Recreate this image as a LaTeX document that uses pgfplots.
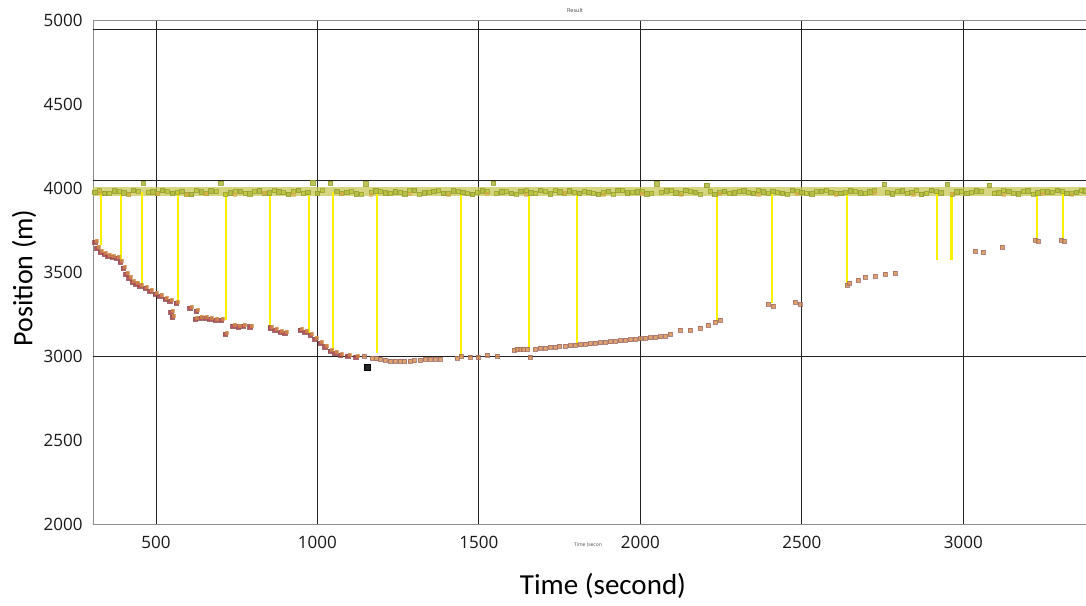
\documentclass[border=0pt]{standalone}
\usepackage{pgfplots}
\usepackage{pgfplotstable}
\pgfplotsset{compat=1.18}
\usepackage{fontspec}
\setmainfont{Open Sans}
\newfontfamily\labelfont{Carlito}
\definecolor{band}{RGB}{176,186,58}
\definecolor{bandline}{RGB}{200,200,85}
\definecolor{bandor}{RGB}{215,170,70}
\definecolor{yel}{RGB}{250,240,0}
\definecolor{traj}{RGB}{214,140,70}
\definecolor{trajdark}{RGB}{120,45,40}
\definecolor{trajred}{RGB}{170,55,70}
\definecolor{gridc}{RGB}{35,35,35}
\definecolor{axc}{RGB}{140,140,140}

\pgfplotstableread{
x y
310 3975
340 3968
370 3983
400 3972
430 3988
460 4030
490 3979
520 3986
550 3970
580 3981
610 3962
640 3977
670 3984
700 4028
730 3973
760 3980
790 3966
820 3985
850 3971
880 3978
910 3964
940 3987
970 3974
985 4032
1000 3969
1040 4030
1060 3982
1090 3976
1120 3967
1150 4025
1180 3984
1210 3972
1240 3979
1270 3965
1300 3986
1330 3971
1360 3980
1390 3968
1420 3983
1450 3974
1480 3962
1510 3985
1545 4030
1570 3977
1600 3969
1630 3982
1660 3973
1690 3987
1720 3966
1750 3978
1780 3984
1810 3970
1840 3976
1870 3963
1900 3981
1930 3988
1960 3972
1990 3979
2020 3967
2050 4026
2080 3983
2110 3971
2140 3986
2170 3975
2205 4015
2230 3964
2260 3980
2290 3973
2320 3985
2350 3968
2380 3977
2410 3982
2440 3970
2470 3987
2500 3974
2530 3965
2560 3981
2590 3976
2620 3969
2650 3984
2680 3972
2710 3979
2755 4022
2780 3967
2810 3983
2840 3975
2870 3962
2900 3986
2930 3971
2950 4024
2980 3978
3010 3969
3040 3985
3080 4018
3110 3973
3140 3980
3170 3966
3200 3984
3230 3972
3260 3979
3290 3987
3320 3970
3350 3976
3375 3983
}\bandtable

\pgfplotstableread{
x y
325 3984
355 3971
385 3978
415 3966
445 3981
475 3973
505 3969
535 3982
565 3975
595 3965
625 3986
655 3970
685 3978
715 3964
745 3983
775 3972
805 3979
835 3967
865 3984
895 3973
925 3980
955 3968
1015 3985
1075 3971
1105 3979
1135 3966
1165 3974
1195 3983
1225 3969
1255 3977
1285 3985
1315 3966
1345 3975
1375 3984
1405 3971
1435 3979
1465 3967
1495 3976
1525 3983
1555 3970
1585 3979
1615 3966
1645 3985
1675 3972
1705 3978
1735 3984
1765 3969
1795 3975
1825 3982
1855 3971
1885 3977
1915 3966
1945 3984
1975 3973
2005 3980
2035 3968
2065 3977
2095 3985
2125 3970
2155 3979
2185 3966
2215 3983
2245 3974
2275 3968
2305 3980
2335 3975
2365 3985
2395 3970
2425 3976
2455 3966
2485 3983
2515 3972
2545 3978
2575 3986
2605 3969
2635 3975
2665 3981
2695 3967
2725 3984
2765 3974
2795 3979
2825 3968
2855 3985
2885 3972
2915 3978
2965 3966
2995 3983
3025 3974
3055 3980
3095 3969
3125 3984
3155 3972
3185 3978
3215 3965
3245 3983
3275 3974
3305 3980
3335 3967
3365 3985
}\bandtabletwo

\pgfplotstableread{
x y
311 3678
317 3643
327 3619
339 3607
351 3595
364 3589
379 3583
389 3559
398 3524
407 3488
416 3464
426 3440
438 3429
450 3417
466 3405
481 3387
497 3369
512 3357
528 3339
543 3327
562 3315
546 3262
550 3232
605 3286
624 3268
621 3220
636 3226
652 3226
667 3220
683 3214
701 3214
714 3131
738 3178
754 3173
769 3178
791 3173
853 3167
868 3155
884 3143
899 3137
946 3155
961 3143
977 3125
992 3101
1008 3077
1023 3054
1039 3030
1054 3018
1070 3006
1094 3000
1119 2994
}\trajA

\pgfplotstableread{
x y
1144 3000
1169 2988
1182 2985
1194 2982
1210 2975
1224 2970
1240 2972
1255 2970
1270 2968
1286 2970
1300 2973
1317 2976
1334 2980
1348 2982
1365 2984
1379 2982
1432 2988
1444 3000
1472 2994
1497 2994
1525 3006
1556 3000
1608 3036
1618 3040
1627 3042
1638 3040
1649 3042
1658 2994
1673 3042
1690 3046
1704 3048
1720 3051
1735 3054
1750 3057
1766 3060
1782 3062
1797 3065
1813 3068
1828 3071
1844 3074
1859 3077
1875 3080
1890 3083
1905 3086
1921 3089
1937 3092
1952 3095
1968 3098
1983 3101
1999 3104
2014 3107
2030 3110
2045 3113
2060 3116
2076 3119
2091 3131
2122 3155
2153 3155
2184 3167
2209 3184
2231 3202
2246 3214
2395 3309
2410 3297
2478 3321
2494 3309
2639 3423
2648 3434
2673 3452
2695 3470
2726 3476
2757 3488
2788 3494
3036 3625
3060 3619
3119 3649
3221 3690
3231 3684
3302 3690
3311 3684
}\trajB

\begin{document}
\begin{tikzpicture}
\useasboundingbox (-93pt,-81pt) rectangle (993pt,524pt);
\begin{axis}[
  at={(0pt,0pt)}, anchor=south west,
  scale only axis, width=993pt, height=504pt,
  xmin=305, xmax=3380, ymin=2000, ymax=5000,
  axis lines*=left,
  axis line style={draw=axc, line width=0.8pt},
  xtick={500,1000,...,3000}, ytick={2000,2500,...,5000},
  major tick length=0pt,
  xmajorgrids, grid style={gridc, line width=0.9pt},
  ticklabel style={font=\fontsize{17}{20}\selectfont, text=black!90},
  /pgf/number format/assume math mode=true,
  /pgf/number format/1000 sep={},
  xticklabel style={yshift=-9pt},
  yticklabel style={xshift=-7pt},
  unbounded coords=jump,
]
% extra horizontal lines
\addplot[gridc, line width=0.9pt] coordinates {(305,3000) (3380,3000)};
\addplot[gridc, line width=0.9pt] coordinates {(305,4042) (3380,4042)};
\addplot[gridc, line width=0.9pt] coordinates {(305,4946) (3380,4946)};
\addplot[axc, line width=0.8pt] coordinates {(305,5000) (3380,5000)};
% band
\addplot[bandline, line width=9pt, opacity=0.75] coordinates {(305,3977) (3380,3977)};
\addplot[only marks, mark=square*, mark size=2.2pt, mark options={fill=band, draw=band!85!black, opacity=0.85}] table {\bandtable};
\addplot[only marks, mark=square*, mark size=2pt, mark options={fill=band!85!yellow, draw=band!85!black, opacity=0.75}] table {\bandtabletwo};
\addplot[only marks, mark=square*, mark size=1.6pt, mark options={fill=bandor, draw=bandor, opacity=0.6}] coordinates {(325,3970) (415,3962) (505,3968) (595,3960) (655,3966) (745,3962) (835,3970) (925,3960) (1075,3966) (1165,3962) (1285,3968) (1405,3960) (1525,3966) (1645,3962) (1765,3970) (1885,3960) (2005,3966) (2125,3962) (2245,3968) (2365,3960) (2485,3966) (2605,3962) (2725,3970) (2845,3960) (2965,3966) (3125,3962) (3245,3968) (3335,3960)};
% yellow connecting lines
\addplot[yel, line width=2.4pt] coordinates {
(330,3975) (330,3662) (330,nan)
(392,3975) (392,3572) (392,nan)
(457,3975) (457,3423) (457,nan)
(568,3975) (568,3315) (568,nan)
(717,3975) (717,3213) (717,nan)
(853,3975) (853,3172) (853,nan)
(974,3975) (974,3136) (974,nan)
(1048,3975) (1048,3034) (1048,nan)
(1184,3975) (1184,3016) (1184,nan)
(1444,3975) (1444,2992) (1444,nan)
(1655,3975) (1655,3034) (1655,nan)
(1803,3975) (1803,3064) (1803,nan)
(2237,3975) (2237,3201) (2237,nan)
(2407,3975) (2407,3315) (2407,nan)
(2639,3975) (2639,3435) (2639,nan)
(2918,3975) (2918,3572) (2918,nan)
(2964,3975) (2964,3572) (2964,nan)
(3228,3975) (3228,3692) (3228,nan)
(3308,3975) (3308,3692)
};
% trajectory
\addplot[only marks, mark=square*, mark size=2.3pt, mark options={fill=trajred, draw=trajdark!80, line width=0.3pt, opacity=0.85}] table {\trajA};
\addplot[only marks, mark=square*, mark size=1.4pt, mark options={fill=traj, draw=traj, opacity=0.7}] table[x expr=\thisrow{x}+6, y expr=\thisrow{y}+8] {\trajA};
\addplot[only marks, mark=square*, mark size=2pt, mark options={fill=traj, draw=trajdark!70, line width=0.3pt, opacity=0.8}] table {\trajB};
\addplot[only marks, mark=square*, mark size=3pt, mark options={fill=black!85, draw=black}] coordinates {(1153,2935)};
\end{axis}
\node[font=\labelfont\fontsize{29}{34}\selectfont] at (510pt,-62pt) {Time (second)};
\node[font=\labelfont\fontsize{28}{33}\selectfont, rotate=90] at (-69pt,246pt) {Position (m)};
\node[font=\fontsize{5.5}{7}\selectfont, text=black!75] at (482pt,514pt) {Result};
\node[font=\fontsize{5}{6}\selectfont, text=black!70] at (495pt,-21pt) {Time (secon};
\end{tikzpicture}
\end{document}
